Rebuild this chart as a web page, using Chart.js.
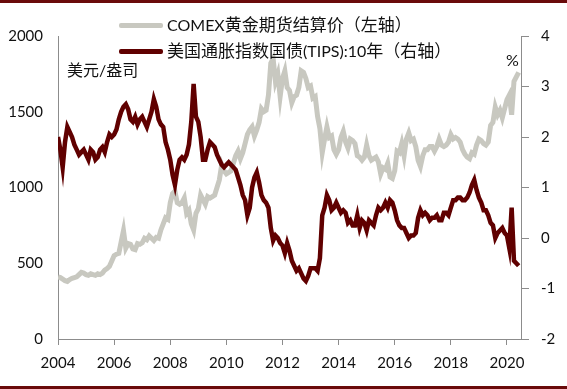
<!DOCTYPE html>
<html>
<head>
<meta charset="utf-8">
<script src="https://cdn.jsdelivr.net/npm/chart.js@4"></script>
<style>
  body { margin: 0; background: #fff; }
  #wrap { position: relative; width: 567px; height: 389px; overflow: hidden; }
  .rule { position: absolute; left: 0; width: 567px; height: 3px; background: #6a0a0a; }
  .txt { position: absolute; white-space: nowrap; color: #111;
         font-family: Lato, "Noto Sans CJK SC", sans-serif; font-size: 17px; line-height: 20px; }
  .txt .lat { font-size: 16px; }
  .swatch { position: absolute; width: 44px; height: 5px; border-radius: 2px; }
</style>
</head>
<body>
<div id="wrap">
  <canvas id="goldChart" width="567" height="389"></canvas>
  <div class="rule" style="top:0"></div>
  <div class="rule" style="top:386px"></div>
  <div class="swatch" style="left:119px;top:23px;background:#c8c8c0"></div>
  <div class="txt" style="left:167px;top:15px"><span class="lat">COMEX</span>黄金期货结算价（左轴）</div>
  <div class="swatch" style="left:119px;top:49px;background:#600000"></div>
  <div class="txt" style="left:167px;top:41px">美国通胀指数国债<span class="lat">(TIPS):10</span>年（右轴）</div>
  <div class="txt" style="left:67px;top:60px;font-size:16px">美元/盎司</div>
  <div class="txt" style="left:506px;top:50px;font-size:16px">%</div>
</div>
<script>
// monthly readings, Jan 2004 .. Jun 2020
const startYear = 2004;
const xTicks = [2004, 2006, 2008, 2010, 2012, 2014, 2016, 2018, 2020];
const goldTicks = [0, 500, 1000, 1500, 2000];
const tipsTicks = [-2, -1, 0, 1, 2, 3, 4];

// COMEX gold settlement, USD/oz (left axis)
const goldPrice = [
  410, 405, 395, 385, 380, 392, 400, 405, 410, 425, 440, 435,
  425, 420, 430, 425, 420, 430, 425, 435, 455, 465, 480, 515,
  550, 560, 565, 640, 715, 600, 630, 625, 595, 590, 630, 625,
  635, 665, 655, 680, 665, 650, 670, 665, 720, 760, 800, 790,
  900, 960, 975, 900, 890, 900, 930, 830, 850, 760, 720, 830,
  860, 950, 920, 890, 940, 930, 940, 950, 1000, 1050, 1150, 1110,
  1090, 1100, 1110, 1160, 1210, 1240, 1190, 1230, 1290, 1350, 1380, 1400,
  1340, 1380, 1430, 1520, 1500, 1510, 1610, 1820, 1850, 1700, 1750, 1600,
  1720, 1770, 1660, 1640, 1560, 1600, 1610, 1660, 1770, 1760, 1720, 1660,
  1670, 1590, 1600, 1470, 1390, 1230, 1320, 1400, 1330, 1340, 1250, 1220,
  1250, 1330, 1370, 1300, 1260, 1320, 1310, 1290, 1210, 1200, 1180, 1200,
  1280, 1210, 1180, 1190, 1200, 1170, 1090, 1130, 1120, 1160, 1070, 1060,
  1110, 1240, 1230, 1290, 1210, 1320, 1360, 1310, 1320, 1270, 1180, 1140,
  1210, 1250, 1250, 1270, 1270, 1240, 1270, 1320, 1280, 1270, 1280, 1300,
  1350, 1320, 1330, 1320, 1300, 1250, 1220, 1200, 1190, 1230, 1220, 1280,
  1320, 1310, 1290, 1280, 1300, 1410, 1430, 1530, 1480, 1510, 1460, 1520,
  1580, 1610, 1480, 1700, 1730, 1760
];

// US 10y TIPS yield, % (right axis)
const tipsYield = [
  2.00, 1.75, 1.40, 1.90, 2.20, 2.10, 2.00, 1.85, 1.75, 1.65, 1.70, 1.75,
  1.65, 1.55, 1.75, 1.70, 1.55, 1.60, 1.75, 1.80, 1.70, 1.90, 2.05, 2.00,
  2.05, 2.15, 2.35, 2.50, 2.60, 2.65, 2.55, 2.35, 2.30, 2.40, 2.25, 2.35,
  2.40, 2.30, 2.20, 2.35, 2.50, 2.75, 2.60, 2.35, 2.25, 2.20, 1.90, 1.75,
  1.55, 1.25, 1.05, 1.35, 1.55, 1.60, 1.55, 1.65, 1.85, 2.30, 3.05, 2.40,
  2.30, 2.00, 1.55, 1.55, 1.75, 1.90, 1.85, 1.80, 1.65, 1.55, 1.45, 1.40,
  1.45, 1.50, 1.45, 1.40, 1.35, 1.20, 1.05, 0.85, 0.75, 0.45, 0.60, 1.00,
  1.20, 1.30, 1.10, 0.85, 0.75, 0.70, 0.60, 0.20, -0.05, 0.05, 0.00, -0.10,
  -0.15, -0.30, -0.10, -0.25, -0.45, -0.55, -0.65, -0.60, -0.70, -0.80, -0.85, -0.75,
  -0.60, -0.60, -0.60, -0.65, -0.40, 0.45, 0.60, 0.85, 0.75, 0.55, 0.60, 0.70,
  0.60, 0.50, 0.55, 0.50, 0.30, 0.35, 0.25, 0.25, 0.45, 0.20, 0.35, 0.30,
  0.15, 0.35, 0.30, 0.25, 0.45, 0.60, 0.55, 0.60, 0.70, 0.60, 0.75, 0.70,
  0.55, 0.35, 0.25, 0.20, 0.20, 0.10, 0.00, 0.05, 0.05, 0.10, 0.40, 0.55,
  0.45, 0.50, 0.45, 0.35, 0.40, 0.40, 0.45, 0.35, 0.35, 0.50, 0.50, 0.45,
  0.60, 0.75, 0.75, 0.80, 0.80, 0.75, 0.75, 0.80, 0.90, 1.05, 1.15, 0.95,
  0.80, 0.70, 0.55, 0.55, 0.45, 0.30, 0.25, 0.00, 0.10, 0.15, 0.20, 0.10,
  0.05, -0.20, 0.60, -0.45, -0.50, -0.55
];

function toPoints(values) {
  return values.map((v, i) => ({ x: startYear + i / 12, y: v }));
}

const axisGray = '#8c8c8c';
const tickFont = { family: 'Lato, sans-serif', size: 15 };

new Chart(document.getElementById('goldChart'), {
  type: 'line',
  data: {
    datasets: [
      {
        label: 'COMEX黄金期货结算价（左轴）',
        data: toPoints(goldPrice),
        yAxisID: 'yGold',
        borderColor: '#c8c8c0',
        borderWidth: 5,
        pointRadius: 0,
        tension: 0,
        order: 2
      },
      {
        label: '美国通胀指数国债(TIPS):10年（右轴）',
        data: toPoints(tipsYield),
        yAxisID: 'yTips',
        borderColor: '#600000',
        borderWidth: 4.5,
        pointRadius: 0,
        tension: 0,
        order: 1
      }
    ]
  },
  options: {
    responsive: false,
    animation: false,
    devicePixelRatio: 1,
    layout: { padding: { top: 36, left: 0, right: 0, bottom: 0 } },
    plugins: { legend: { display: false }, tooltip: { enabled: false } },
    scales: {
      x: {
        type: 'linear',
        min: 2004,
        max: 2020.5,
        afterBuildTicks: axis => { axis.ticks = xTicks.map(v => ({ value: v })); },
        afterFit: axis => { axis.height = 50; },
        grid: { drawOnChartArea: false, drawTicks: true, tickLength: 6, color: axisGray },
        border: { color: axisGray, width: 1 },
        ticks: { color: '#111', font: tickFont, padding: 9, maxRotation: 0,
                 callback: v => String(v) }
      },
      yGold: {
        position: 'left',
        min: 0,
        max: 2000,
        afterBuildTicks: axis => { axis.ticks = goldTicks.map(v => ({ value: v })); },
        afterFit: axis => { axis.width = 58; },
        grid: { drawOnChartArea: false, drawTicks: false },
        border: { color: axisGray, width: 1 },
        ticks: { color: '#111', font: tickFont, padding: 15, callback: v => String(v) }
      },
      yTips: {
        position: 'right',
        min: -2,
        max: 4,
        afterBuildTicks: axis => { axis.ticks = tipsTicks.map(v => ({ value: v })); },
        afterFit: axis => { axis.width = 46; },
        grid: { drawOnChartArea: false, drawTicks: true, tickLength: 8, color: axisGray },
        border: { color: axisGray, width: 1 },
        ticks: { color: '#111', font: tickFont, padding: 12, callback: v => String(v) }
      }
    }
  }
});
</script>
</body>
</html>
